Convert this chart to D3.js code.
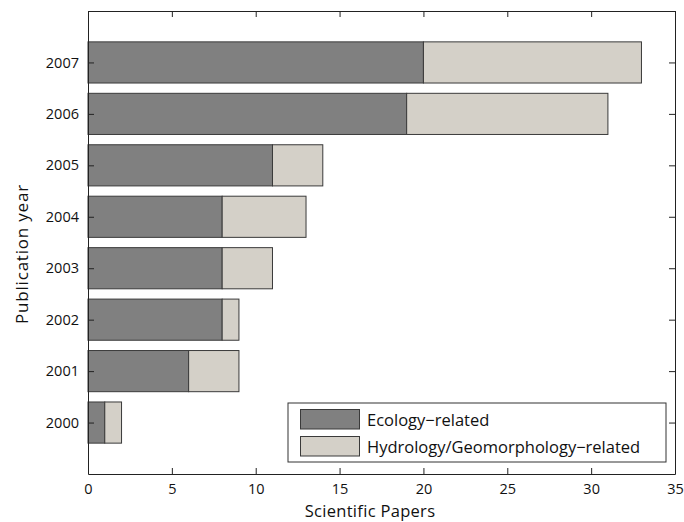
<!DOCTYPE html>
<html>
<head>
<meta charset="utf-8">
<script src="https://cdn.jsdelivr.net/npm/d3@7"></script>
<style>
  body { margin: 0; background: #fff; }
  text { font-family: "Open Sans", sans-serif; fill: #111; }
</style>
</head>
<body>
<div id="chart"></div>
<script>
// data
const years = [2000, 2001, 2002, 2003, 2004, 2005, 2006, 2007];
const ecology = [1, 6, 8, 8, 8, 11, 19, 20];
const hydrology = [1, 3, 1, 3, 5, 3, 12, 13];
const seriesNames = ["Ecology\u2212related", "Hydrology/Geomorphology\u2212related"];
const xTicks = [0, 5, 10, 15, 20, 25, 30, 35];

const width = 684, height = 522;
const margin = {top: 11, right: 9, bottom: 48, left: 88};

const svg = d3.select("#chart").append("svg")
    .attr("width", width)
    .attr("height", height);

const x = d3.scaleLinear().domain([0, 35]).range([margin.left, width - margin.right]);
const y = d3.scaleLinear().domain([1999, 2008]).range([height - margin.bottom, margin.top]);
const barH = (y(0) - y(0.8));
const colors = ["#808080", "#d4d0c8"];

const rows = years.map((yr, i) => ({year: yr, eco: ecology[i], hyd: hydrology[i]}));

// bars
const g = svg.append("g");
g.selectAll("rect.eco")
    .data(rows)
    .join("rect")
    .attr("class", "eco")
    .attr("x", x(0))
    .attr("y", d => y(d.year) - barH / 2)
    .attr("width", d => x(d.eco) - x(0))
    .attr("height", barH)
    .attr("fill", colors[0])
    .attr("stroke", "#3a3a3a")
    .attr("stroke-width", 1);
g.selectAll("rect.hyd")
    .data(rows)
    .join("rect")
    .attr("class", "hyd")
    .attr("x", d => x(d.eco))
    .attr("y", d => y(d.year) - barH / 2)
    .attr("width", d => x(d.eco + d.hyd) - x(d.eco))
    .attr("height", barH)
    .attr("fill", colors[1])
    .attr("stroke", "#3a3a3a")
    .attr("stroke-width", 1);

// axes (ticks inside, mirrored box)
const tl = 6;
const axBottom = svg.append("g").attr("transform", `translate(0,${y(1999)})`)
    .call(d3.axisBottom(x).tickValues(xTicks).tickSizeInner(-tl).tickSizeOuter(0).tickPadding(10));
const axTop = svg.append("g").attr("transform", `translate(0,${y(2008)})`)
    .call(d3.axisTop(x).tickValues(xTicks).tickSizeInner(-tl).tickSizeOuter(0).tickFormat(""));
const axLeft = svg.append("g").attr("transform", `translate(${x(0)},0)`)
    .call(d3.axisLeft(y).tickValues(years).tickFormat(d3.format("d")).tickSizeInner(-tl).tickSizeOuter(0).tickPadding(9));
const axRight = svg.append("g").attr("transform", `translate(${x(35)},0)`)
    .call(d3.axisRight(y).tickValues(years).tickSizeInner(-tl).tickSizeOuter(0).tickFormat(""));

[axBottom, axTop, axLeft, axRight].forEach(a => {
  a.select(".domain").attr("stroke", "#222");
  a.selectAll(".tick line").attr("stroke", "#222");
  a.selectAll("text").style("font-size", "14.5px").attr("fill", "#111");
});

// axis labels
svg.append("text")
    .attr("x", 370)
    .attr("y", 517)
    .attr("text-anchor", "middle")
    .style("font-size", "16.5px")
    .style("letter-spacing", "0.3px")
    .text("Scientific Papers");
svg.append("text")
    .attr("transform", "translate(28,254) rotate(-90)")
    .attr("text-anchor", "middle")
    .style("font-size", "17px")
    .style("letter-spacing", "0.8px")
    .text("Publication year");

// legend
const lg = svg.append("g").attr("transform", "translate(288,403)");
lg.append("rect").attr("width", 378).attr("height", 59)
    .attr("fill", "#fff").attr("stroke", "#333");
seriesNames.forEach((name, i) => {
  lg.append("rect")
    .attr("x", 12.5).attr("y", 6.5 + i * 27)
    .attr("width", 59).attr("height", 19.5)
    .attr("fill", colors[i]).attr("stroke", "#3a3a3a");
  lg.append("text")
    .attr("x", 79).attr("y", 22.5 + i * 27)
    .style("font-size", "16.5px")
    .text(name);
});
</script>
</body>
</html>
